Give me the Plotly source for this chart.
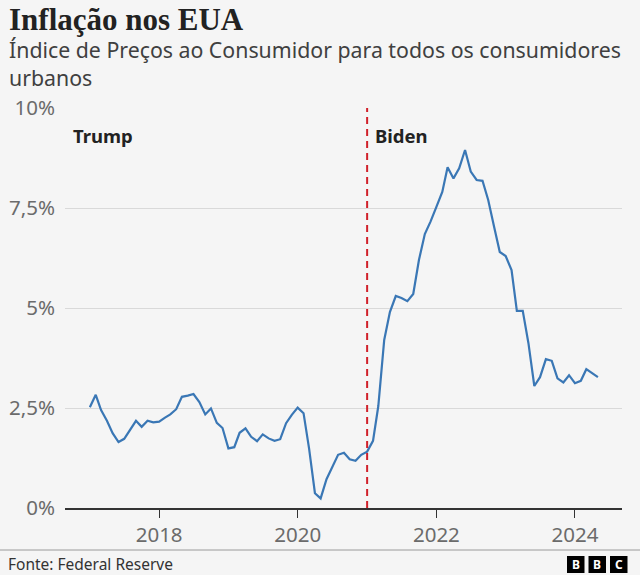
import pandas as pd
import plotly.graph_objects as go

# ---- data (annual CPI inflation, % y/y, monthly) ----
infl_2017 = [2.52, 2.83, 2.45, 2.18, 1.87, 1.65, 1.73, 1.95, 2.18, 2.03, 2.18, 2.14]
infl_2018 = [2.16, 2.26, 2.34, 2.47, 2.78, 2.81, 2.85, 2.65, 2.34, 2.49, 2.13, 2.00]
infl_2019 = [1.49, 1.52, 1.88, 1.99, 1.78, 1.67, 1.84, 1.74, 1.68, 1.72, 2.12, 2.33]
infl_2020 = [2.51, 2.37, 1.49, 0.37, 0.24, 0.72, 1.03, 1.33, 1.38, 1.22, 1.18, 1.33]
infl_2021 = [1.41, 1.68, 2.55, 4.20, 4.90, 5.30, 5.25, 5.17, 5.35, 6.20, 6.85, 7.16]
infl_2022 = [7.53, 7.90, 8.52, 8.24, 8.49, 8.95, 8.41, 8.20, 8.18, 7.70, 7.03, 6.40]
infl_2023 = [6.30, 5.95, 4.93, 4.93, 4.12, 3.05, 3.27, 3.72, 3.68, 3.24, 3.14, 3.32]
infl_2024 = [3.12, 3.18, 3.47, 3.37, 3.27]

inflation = (infl_2017 + infl_2018 + infl_2019 + infl_2020 + infl_2021
             + infl_2022 + infl_2023 + infl_2024)
dates = pd.date_range("2017-01-01", periods=len(inflation), freq="MS")

y_tickvals = [0, 2.5, 5, 7.5, 10]
y_ticktext = ["0%", "2,5%", "5%", "7,5%", "10%"]
x_tickvals = ["2018-01-01", "2020-01-01", "2022-01-01", "2024-01-01"]
x_ticktext = ["2018", "2020", "2022", "2024"]
inauguration = "2021-01-01"

# ---- layout geometry (pixels) ----
W, H = 640, 575
ML, MR, MT, MB = 65, 18, 108, 67
PW, PH = W - ML - MR, H - MT - MB


def px_x(px):
    return (px - ML) / PW


def px_y(py):
    return (H - MB - py) / PH


SANS = "Noto Sans, Open Sans, sans-serif"
BG = "#f5f5f5"

fig = go.Figure()
fig.add_trace(go.Scatter(
    x=dates, y=inflation, mode="lines",
    line=dict(color="#3a77b5", width=2.2),
    hoverinfo="skip", showlegend=False,
))

shapes = [
    dict(type="line", xref="x", yref="y", x0=inauguration, x1=inauguration,
         y0=0, y1=10, line=dict(color="#d0202a", width=2, dash="7px,5px"),
         layer="above"),
    dict(type="line", xref="paper", yref="paper", x0=px_x(0), x1=px_x(W),
         y0=px_y(550), y1=px_y(550), line=dict(color="#9a9a9a", width=1)),
]
annotations = [
    dict(text="<b>Inflação nos EUA</b>", xref="paper", yref="paper",
         x=px_x(7), y=px_y(19), xanchor="left", yanchor="middle",
         showarrow=False, font=dict(family="Liberation Serif, serif", size=31, color="#222222")),
    dict(text="Índice de Preços ao Consumidor para todos os consumidores<br>urbanos",
         xref="paper", yref="paper", x=px_x(7), y=px_y(64), xanchor="left",
         yanchor="middle", align="left", showarrow=False,
         font=dict(family=SANS, size=21.3, color="#404040")),
    dict(text="<b>Trump</b>", xref="paper", yref="paper", x=px_x(71), y=px_y(135),
         xanchor="left", yanchor="middle", showarrow=False,
         font=dict(family=SANS, size=18.5, color="#222222")),
    dict(text="<b>Biden</b>", xref="paper", yref="paper", x=px_x(373), y=px_y(135),
         xanchor="left", yanchor="middle", showarrow=False,
         font=dict(family=SANS, size=18.5, color="#222222")),
    dict(text="Fonte: Federal Reserve", xref="paper", yref="paper", x=px_x(6),
         y=px_y(564), xanchor="left", yanchor="middle", showarrow=False,
         font=dict(family=SANS, size=15.5, color="#333333")),
]
# BBC logo blocks
for i, letter in enumerate(["B", "B", "C"]):
    x0 = 567 + i * 21.5
    shapes.append(dict(type="rect", xref="paper", yref="paper",
                       x0=px_x(x0), x1=px_x(x0 + 17.5), y0=px_y(573), y1=px_y(556),
                       fillcolor="#000000", line=dict(width=0)))
    annotations.append(dict(text=f"<b>{letter}</b>", xref="paper", yref="paper",
                            x=px_x(x0 + 8.75), y=px_y(564.5), xanchor="center",
                            yanchor="middle", showarrow=False,
                            font=dict(family=SANS, size=12, color="#ffffff")))

fig.update_layout(
    width=W, height=H,
    margin=dict(l=ML, r=MR, t=MT, b=MB, pad=0, autoexpand=False),
    paper_bgcolor=BG, plot_bgcolor=BG,
    shapes=shapes, annotations=annotations,
    showlegend=False,
    xaxis=dict(
        type="date", range=["2016-08-23", "2024-09-05"],
        tickvals=x_tickvals, ticktext=x_ticktext,
        showgrid=False, zeroline=False, automargin=False,
        showline=True, linecolor="#333333", linewidth=1.6,
        ticks="outside", ticklen=8, tickwidth=1.2, tickcolor="#333333",
        tickfont=dict(family=SANS, size=20.5, color="#6b6b6b"),
        fixedrange=True,
    ),
    yaxis=dict(
        range=[0, 10], tickvals=y_tickvals, ticktext=y_ticktext,
        showgrid=True, gridcolor="#d9d9d9", gridwidth=1,
        zeroline=False, showline=False, ticks="", automargin=False,
        tickfont=dict(family=SANS, size=20.5, color="#6b6b6b"),
        ticklabelstandoff=9,
        fixedrange=True,
    ),
)

fig.write_html(
    "out.html",
    config={"displayModeBar": False},
    post_script="document.body.style.margin='0';document.body.style.background='#f5f5f5';",
)
